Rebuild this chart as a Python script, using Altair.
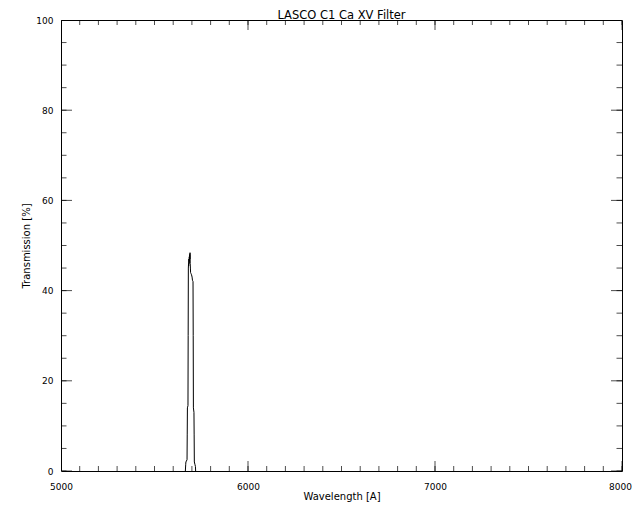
import altair as alt
import pandas as pd

# Filter transmission curve
wavelength = [5665, 5667, 5668, 5674, 5675, 5676, 5679, 5680, 5681,
              5682, 5683, 5684, 5685, 5686, 5687, 5688, 5689, 5690, 5691, 5692,
              5693, 5695, 5698, 5701, 5703, 5706, 5707, 5708, 5711, 5712, 5713,
              5716, 5719, 5720]
transmission = [0, 1.5, 2, 2.5, 8, 14, 14.5, 30, 45,
                46, 45.5, 47, 46, 47.5, 46.5, 48, 47, 48.4, 46, 45,
                44, 43.8, 43.5, 43, 42.3, 42, 30, 14, 13, 8, 2,
                1.5, 1, 0]

x_major = [5000, 6000, 7000, 8000]
x_minor = list(range(5000, 8001, 100))
y_major = [0, 20, 40, 60, 80, 100]
y_minor = list(range(0, 101, 5))

FONT = "DejaVu Sans"
W, H = 561, 451

xs = alt.Scale(domain=[5000, 8000], nice=False, zero=False)
ys = alt.Scale(domain=[0, 100], nice=False)

AX = alt.Axis(values=x_major, format="d", ticks=False, tickSize=0,
              domain=False, grid=False, labelPadding=11,
              labelFontSize=9, labelFont=FONT, labelColor="black",
              labelOffset={"condition": {"test": "datum.value == 8000", "value": -2},
                           "value": 0},
              title="Wavelength [A]", titleFontSize=10,
              titleFont=FONT, titleFontWeight="normal",
              titleColor="black", titlePadding=0, labelFlush=False)
AY = alt.Axis(values=y_major, format="d", ticks=False, tickSize=0,
              domain=False, grid=False, labelPadding=8,
              labelFontSize=9, labelFont=FONT, labelColor="black",
              title="Transmission [%]", titleFontSize=10,
              titleFont=FONT, titleFontWeight="normal",
              titleColor="black", titlePadding=4, labelFlush=False)

df = pd.DataFrame({"w": wavelength, "t": transmission})

line = alt.Chart(df).mark_line(color="black", strokeWidth=1).encode(
    x=alt.X("w:Q", scale=xs, axis=AX),
    y=alt.Y("t:Q", scale=ys, axis=AY),
)


def xticks(vals, length, at):
    return alt.Chart(pd.DataFrame({"v": vals})).mark_tick(
        orient="vertical", size=2 * length, thickness=1, color="black", clip=True
    ).encode(x=alt.X("v:Q", scale=xs, axis=AX),
             y=alt.YDatum(at, scale=ys, axis=AY))


def yticks(vals, length, at):
    return alt.Chart(pd.DataFrame({"v": vals})).mark_tick(
        orient="horizontal", size=2 * length, thickness=1, color="black", clip=True
    ).encode(y=alt.Y("v:Q", scale=ys, axis=AY),
             x=alt.XDatum(at, scale=xs, axis=AX))


chart = alt.layer(
    line,
    xticks(x_minor, 5, 0), xticks(x_major, 10, 0),
    xticks(x_minor, 5, 100), xticks(x_major, 10, 100),
    yticks(y_minor, 5.5, 5000), yticks(y_major, 11, 5000),
    yticks(y_minor, 5.5, 8000), yticks(y_major, 11, 8000),
).properties(
    width=W, height=H,
    title=alt.TitleParams("LASCO C1  Ca  XV Filter", fontSize=11.5,
                          fontWeight="normal", font=FONT, color="black",
                          offset=-5, anchor="middle"),
    autosize=alt.AutoSizeParams(type="none"),
    padding={"left": 53, "top": 12, "right": 10, "bottom": 33},
).configure_view(stroke="black", strokeWidth=1)

chart.save("out.html", embed_options={"renderer": "svg", "actions": False})
